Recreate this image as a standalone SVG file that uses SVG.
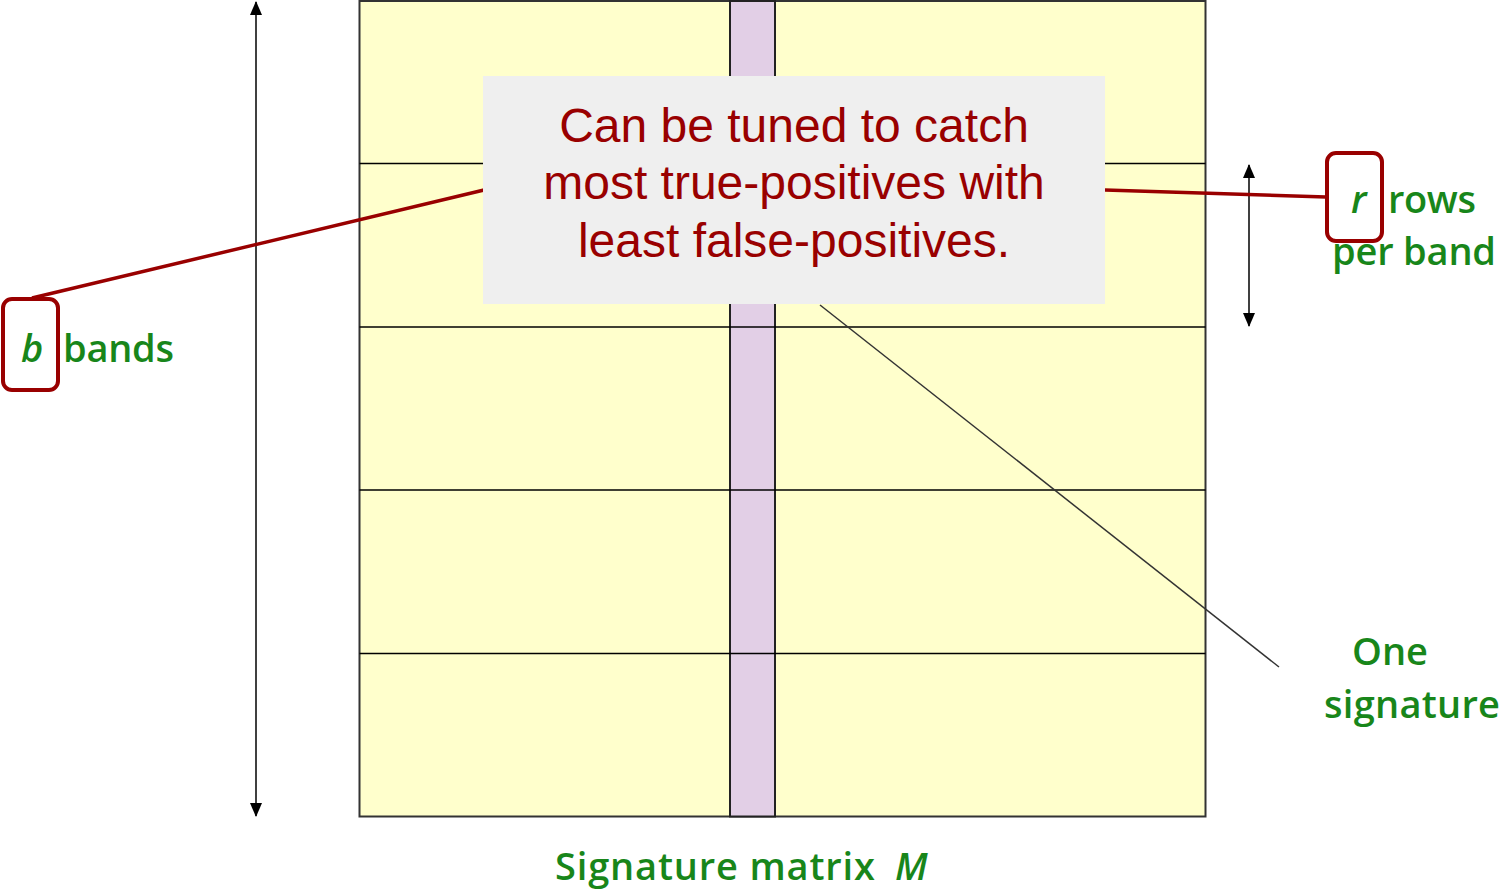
<svg xmlns="http://www.w3.org/2000/svg" width="1503" height="889" viewBox="0 0 1503 889">
<defs>
<marker id="ah" viewBox="0 0 14 12" refX="13" refY="6" markerWidth="14" markerHeight="12" markerUnits="userSpaceOnUse" orient="auto-start-reverse">
<path d="M14 6 L0 0 L0 12 Z" fill="#000"/>
</marker>
<style>
.g{font-family:"Open Sans","Noto Sans",sans-serif;fill:#18861a;font-size:38px;font-weight:600}
.i{font-style:italic}
.cap{font-family:"Liberation Sans",Arial,sans-serif;fill:#990000;font-size:48px;text-anchor:middle}
.hl{fill:none;stroke:#990000;stroke-width:4}
.thin{stroke:#000;stroke-width:1.5;fill:none}
</style>
</defs>
<g id="matrix">
<rect x="359.5" y="1" width="846" height="815.5" fill="#ffffcc" stroke="#333" stroke-width="2"/>
<rect x="730" y="1" width="45" height="815.5" fill="#e2cfe6" stroke="#222" stroke-width="2"/>
<line x1="359.5" y1="163.5" x2="1205.5" y2="163.5" class="thin"/>
<line x1="359.5" y1="327" x2="1205.5" y2="327" class="thin"/>
<line x1="359.5" y1="490" x2="1205.5" y2="490" class="thin"/>
<line x1="359.5" y1="653.5" x2="1205.5" y2="653.5" class="thin"/>
</g>
<g id="connectors">
<line x1="256" y1="2" x2="256" y2="816" class="thin" marker-start="url(#ah)" marker-end="url(#ah)"/>
<line x1="1249" y1="165" x2="1249" y2="326" class="thin" marker-start="url(#ah)" marker-end="url(#ah)"/>
<line x1="820" y1="305" x2="1279" y2="667" stroke="#333" stroke-width="1.5"/>
<line x1="32" y1="298" x2="484" y2="190" stroke="#990000" stroke-width="3.5"/>
<line x1="1105" y1="190" x2="1326" y2="197" stroke="#990000" stroke-width="3.5"/>
</g>
<g id="callout">
<rect x="483" y="76" width="622" height="228" fill="#efefef"/>
<text class="cap" x="794" y="142">Can be tuned to catch</text>
<text class="cap" x="794" y="199">most true-positives with</text>
<text class="cap" x="794" y="257">least false-positives.</text>
</g>
<g id="b-label">
<rect x="3" y="299" width="55" height="91" rx="9" class="hl"/>
<text class="g i" x="21" y="362">b</text>
<text class="g" x="63" y="362" textLength="111">bands</text>
</g>
<g id="r-label">
<rect x="1327" y="153" width="55" height="88" rx="9" class="hl"/>
<text class="g i" x="1351" y="213">r</text>
<text class="g" x="1388" y="213" textLength="88">rows</text>
<text class="g" x="1332" y="265" textLength="164">per band</text>
</g>
<g id="signature-label">
<text class="g" x="1352" y="665" textLength="76">One</text>
<text class="g" x="1324" y="718" textLength="176">signature</text>
</g>
<g id="matrix-label">
<text class="g" x="555" y="880" textLength="320">Signature matrix</text>
<text class="g i" x="895" y="880" textLength="38">M</text>
</g>
</svg>
